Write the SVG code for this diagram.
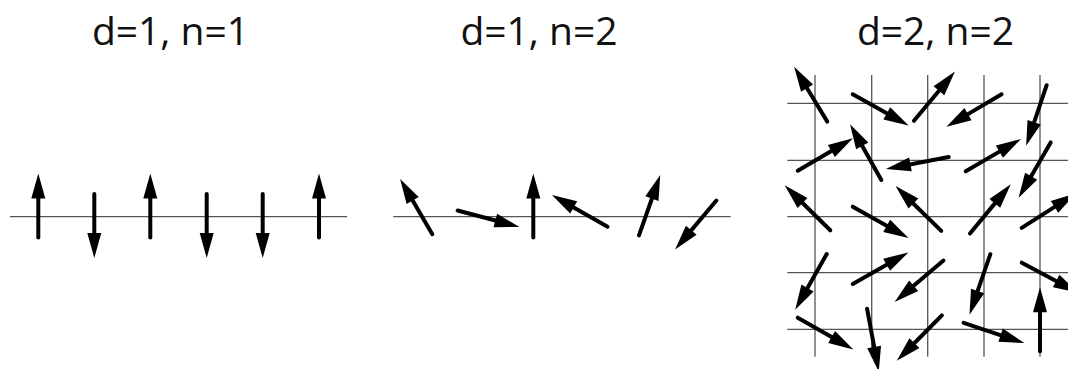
<svg xmlns="http://www.w3.org/2000/svg" xmlns:xlink="http://www.w3.org/1999/xlink" width="1068" height="369" viewBox="0 0 1068 369">
<style>
.t{font-family:"Open Sans","Noto Sans",sans-serif;font-size:39px;fill:#111;text-anchor:middle}
.g{stroke:#555;stroke-width:1.3;fill:none}
</style>
<defs>
<g id="ar">
<line x1="2" y1="0" x2="43" y2="0" stroke="#000" stroke-width="4" stroke-linecap="round"/>
<polygon points="41,-7 66,0 41,7" fill="#000"/>
</g>
</defs>
<rect width="1068" height="369" fill="#fff"/>
<g id="panel1">
<text class="t" x="170.5" y="45">d=1, n=1</text>
<line class="g" x1="10" y1="216.7" x2="347" y2="216.7"/>
<use xlink:href="#ar" transform="translate(38.3,239.5) rotate(-90)"/>
<use xlink:href="#ar" transform="translate(94.3,192) rotate(90)"/>
<use xlink:href="#ar" transform="translate(150.3,239.5) rotate(-90)"/>
<use xlink:href="#ar" transform="translate(206.7,192) rotate(90)"/>
<use xlink:href="#ar" transform="translate(262.7,192) rotate(90)"/>
<use xlink:href="#ar" transform="translate(319,239.5) rotate(-90)"/>
</g>
<g id="panel2">
<text class="t" x="539" y="45">d=1, n=2</text>
<line class="g" x1="393.3" y1="216.7" x2="730.7" y2="216.7"/>
<use xlink:href="#ar" transform="translate(433.3,236) rotate(-120.2)"/>
<use xlink:href="#ar" transform="translate(455.7,210) rotate(14.9)"/>
<use xlink:href="#ar" transform="translate(533.3,239.5) rotate(-90)"/>
<use xlink:href="#ar" transform="translate(609.3,227.7) rotate(-150.3)"/>
<use xlink:href="#ar" transform="translate(638.3,237.3) rotate(-70.6)"/>
<use xlink:href="#ar" transform="translate(717.7,199) rotate(130.2)"/>
</g>
<g id="panel3">
<text class="t" x="935.5" y="45">d=2, n=2</text>
<g class="g">
<line x1="815" y1="75" x2="815" y2="356.7"/>
<line x1="871.7" y1="75" x2="871.7" y2="356.7"/>
<line x1="927.7" y1="75" x2="927.7" y2="356.7"/>
<line x1="984" y1="75" x2="984" y2="356.7"/>
<line x1="1040" y1="75" x2="1040" y2="356.7"/>
<line x1="787.3" y1="103.3" x2="1068" y2="103.3"/>
<line x1="787.3" y1="160.3" x2="1068" y2="160.3"/>
<line x1="787.3" y1="216.7" x2="1068" y2="216.7"/>
<line x1="787.3" y1="272.7" x2="1068" y2="272.7"/>
<line x1="787.3" y1="329.3" x2="1068" y2="329.3"/>
</g>
<use xlink:href="#ar" transform="translate(828.3,123.3) rotate(-121.2)"/>
<use xlink:href="#ar" transform="translate(851,93.3) rotate(29.2)"/>
<use xlink:href="#ar" transform="translate(912.7,122.3) rotate(-50.2)"/>
<use xlink:href="#ar" transform="translate(1003.3,93.3) rotate(149.5)"/>
<use xlink:href="#ar" transform="translate(1047.3,83.3) rotate(108.7)"/>
<use xlink:href="#ar" transform="translate(796,171.7) rotate(-30.4)"/>
<use xlink:href="#ar" transform="translate(882.3,181.7) rotate(-119.3)"/>
<use xlink:href="#ar" transform="translate(950.7,156.7) rotate(169.2)"/>
<use xlink:href="#ar" transform="translate(964,172.3) rotate(-30.3)"/>
<use xlink:href="#ar" transform="translate(1051.7,140.7) rotate(120.1)"/>
<use xlink:href="#ar" transform="translate(831.7,231.7) rotate(-135.4)"/>
<use xlink:href="#ar" transform="translate(851,205.7) rotate(29.4)"/>
<use xlink:href="#ar" transform="translate(942.7,232.3) rotate(-135.6)"/>
<use xlink:href="#ar" transform="translate(968.7,235) rotate(-50.4)"/>
<use xlink:href="#ar" transform="translate(1020,229) rotate(-32.6)"/>
<use xlink:href="#ar" transform="translate(827.7,252.3) rotate(119.5)"/>
<use xlink:href="#ar" transform="translate(851,285) rotate(-29.6)"/>
<use xlink:href="#ar" transform="translate(945,259.3) rotate(139.8)"/>
<use xlink:href="#ar" transform="translate(991,252.3) rotate(109)"/>
<use xlink:href="#ar" transform="translate(1020,261.7) rotate(28.1)"/>
<use xlink:href="#ar" transform="translate(796,316.7) rotate(29.7)"/>
<use xlink:href="#ar" transform="translate(866.7,306.7) rotate(79.5)"/>
<use xlink:href="#ar" transform="translate(943.3,314) rotate(134.8)"/>
<use xlink:href="#ar" transform="translate(961.7,322.3) rotate(18.3)"/>
<use xlink:href="#ar" transform="translate(1040,353.3) rotate(-90)"/>
</g>
</svg>
